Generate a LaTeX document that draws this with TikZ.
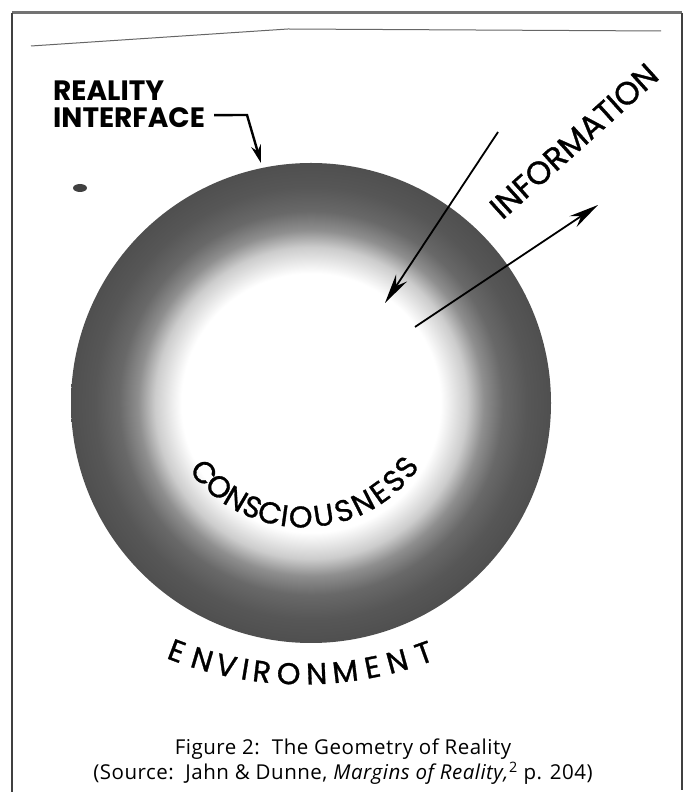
\documentclass[tikz,border=0pt]{standalone}
\usepackage{fontspec}
\usepackage{tikz}
\usetikzlibrary{arrows.meta, positioning, calc}
\newfontfamily\geofont{Poppins}
\newfontfamily\geomed{Poppins}[FakeBold=1]
\newfontfamily\capfont{Open Sans}[LetterSpace=2.5]
\pgfdeclareradialshading{globeshade}{\pgfpoint{0bp}{0bp}}{color(0bp)=(white); color(13.5bp)=(white); color(16.25bp)=(black!20); color(18bp)=(black!44); color(20bp)=(black!59); color(22.5bp)=(black!66); color(25bp)=(black!69); color(50bp)=(black!69)}
\tikzset{
	globe/.style    ={circle, minimum size=480pt, inner sep=0pt, shading=globeshade},
	bigcap/.style   ={inner sep=0pt, font=\geofont\bfseries\fontsize{28}{28}\selectfont},
	arcletter/.style={inner sep=0pt, font=\geomed\fontsize{30}{30}\selectfont},
	infotext/.style ={inner sep=0pt, font=\geomed\fontsize{32}{32}\selectfont},
	captext/.style  ={inner sep=0pt, font=\capfont\fontsize{20.5}{20.5}\selectfont},
	ifaceptr/.style ={-{Stealth[length=18pt, width=10pt]}, line width=2.4pt},
	infoptr/.style  ={-{Stealth[length=30pt, width=13pt]}, line width=1.8pt},
}
\begin{document}
\begin{tikzpicture}[x=1pt, y=1pt]
	\useasboundingbox (0,0) rectangle (690,793);
	% page edges
	\draw[black!55, line width=3pt] (12,780) -- (682,780);
	\draw[black!75, line width=1.2pt] (12,780) -- (12,1);
	\draw[black!75, line width=1.2pt] (682,780) -- (682,3);
	\draw[black!60, line width=1pt] (31,747) -- (288,764) -- (661,762);
	% the sphere
	\node[globe] (sphere) at (311,390) {};
	\fill[black!75] (80,605) ellipse (7 and 4);
	% reality interface
	\node[bigcap, anchor=base west] (reality) at (53,692) {REALITY};
	\node[bigcap, anchor=base west] (interface) at (53,665) {INTERFACE};
	\coordinate (ifacebend) at (247,678);
	\coordinate (ifacetip) at (261,630);
	\draw[ifaceptr] ([shift={(9,3)}]interface.east) -- (ifacebend) -- (ifacetip);
	% information in and out
	\coordinate (inbeg) at (498,661);
	\coordinate (inend) at (385,490);
	\coordinate (outbeg) at (415,466);
	\coordinate (outend) at (598,588);
	\draw[infoptr] (inbeg) -- (inend);
	\draw[infoptr] (outbeg) -- (outend);
	\node[infotext, rotate=42] (information) at (574,652) {INFORMATION};
	% curved words
	\coordinate (consctr) at (303,408);
	\foreach \ch/\a [count=\i] in {C/-48.5, O/-39.5, N/-30.5, S/-22.5, C/-14.5, I/-8, O/-1, U/9, S/18, N/27, E/35.5, S/43.5, S/51.5}
		\node[arcletter, rotate=\a] (cons\i) at ($(consctr)+(270+\a:132)$) {\ch};
	\coordinate (envctr) at (303,476);
	\foreach \ch/\a [count=\i] in {E/-20.7, N/-16.4, V/-12.4, I/-9.3, R/-6.6, O/-2.3, N/2.2, M/6.8, E/11.2, N/15.3, T/19.8}
		\node[arcletter, rotate=\a] (env\i) at ($(envctr)+(270+\a:357)$) {\ch};
	% caption
	\node[captext, anchor=base] (figtitle) at (343,38) {Figure 2:\hspace{12pt}The Geometry of Reality};
	\node[captext, anchor=base] (figsource) at (343,13) {(Source:\ \ Jahn \& Dunne, \textit{Margins of Reality,}\textsuperscript{2} p. 204)};
\end{tikzpicture}
\end{document}
